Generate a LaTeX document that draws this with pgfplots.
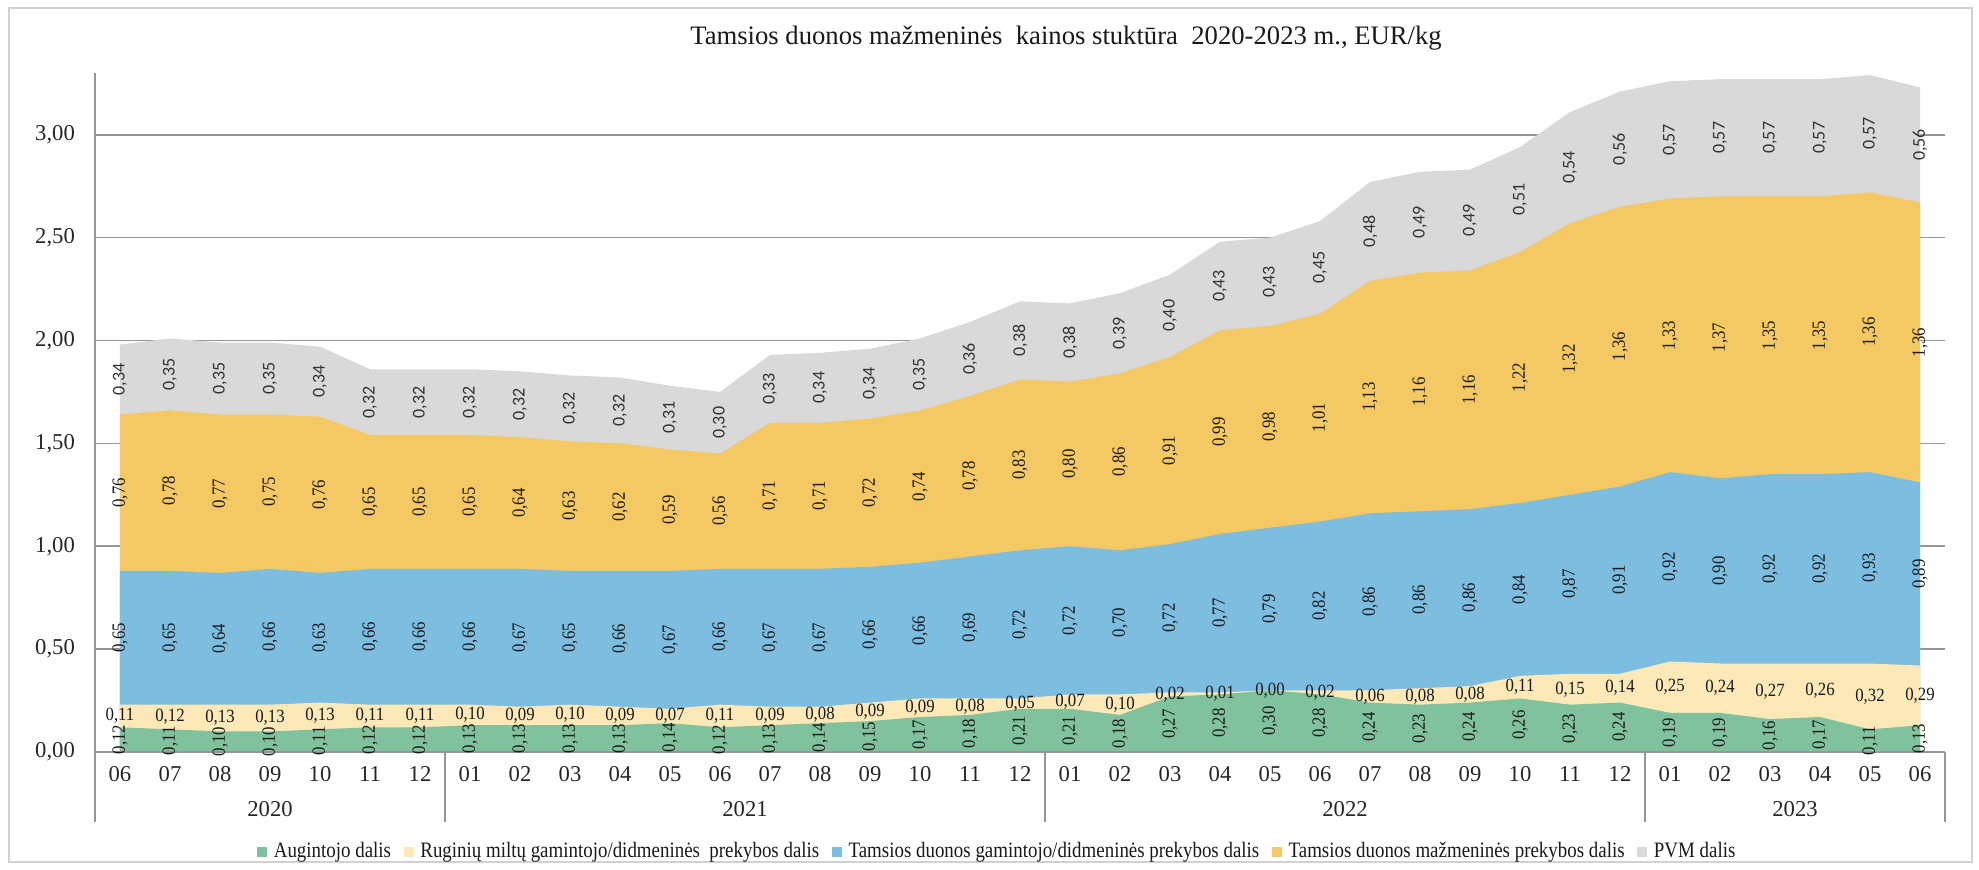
\documentclass[border=0pt]{standalone}
\usepackage{fontspec}
\setmainfont{Liberation Serif}
\newfontfamily\lblsans{Carlito}
\newfontfamily\condserif[FakeStretch=0.9]{Liberation Serif}
\newfontfamily\legserif[FakeStretch=0.86]{Liberation Serif}
\usepackage{pgfplots}
\usepackage{pgfplotstable}
\pgfplotsset{compat=1.18}
\definecolor{cA}{RGB}{128,194,158}
\definecolor{cB}{RGB}{253,233,183}
\definecolor{cC}{RGB}{124,189,224}
\definecolor{cD}{RGB}{244,200,98}
\definecolor{cE}{RGB}{217,217,217}
\definecolor{gridc}{RGB}{150,150,150}

\pgfplotstableread{
x a b c d e
0 0.12 0.11 0.65 0.76 0.34
1 0.11 0.12 0.65 0.78 0.35
2 0.10 0.13 0.64 0.77 0.35
3 0.10 0.13 0.66 0.75 0.35
4 0.11 0.13 0.63 0.76 0.34
5 0.12 0.11 0.66 0.65 0.32
6 0.12 0.11 0.66 0.65 0.32
7 0.13 0.10 0.66 0.65 0.32
8 0.13 0.09 0.67 0.64 0.32
9 0.13 0.10 0.65 0.63 0.32
10 0.13 0.09 0.66 0.62 0.32
11 0.14 0.07 0.67 0.59 0.31
12 0.12 0.11 0.66 0.56 0.30
13 0.13 0.09 0.67 0.71 0.33
14 0.14 0.08 0.67 0.71 0.34
15 0.15 0.09 0.66 0.72 0.34
16 0.17 0.09 0.66 0.74 0.35
17 0.18 0.08 0.69 0.78 0.36
18 0.21 0.05 0.72 0.83 0.38
19 0.21 0.07 0.72 0.80 0.38
20 0.18 0.10 0.70 0.86 0.39
21 0.27 0.02 0.72 0.91 0.40
22 0.28 0.01 0.77 0.99 0.43
23 0.30 0.00 0.79 0.98 0.43
24 0.28 0.02 0.82 1.01 0.45
25 0.24 0.06 0.86 1.13 0.48
26 0.23 0.08 0.86 1.16 0.49
27 0.24 0.08 0.86 1.16 0.49
28 0.26 0.11 0.84 1.22 0.51
29 0.23 0.15 0.87 1.32 0.54
30 0.24 0.14 0.91 1.36 0.56
31 0.19 0.25 0.92 1.33 0.57
32 0.19 0.24 0.90 1.37 0.57
33 0.16 0.27 0.92 1.35 0.57
34 0.17 0.26 0.92 1.35 0.57
35 0.11 0.32 0.93 1.36 0.57
36 0.13 0.29 0.89 1.36 0.56
}\data

\begin{document}
\begin{tikzpicture}
\useasboundingbox (0,0) rectangle (593.7pt,261pt);
\draw[black!18, line width=0.5pt] (2.7pt,2.4pt) rectangle (591.6pt,258.6pt);
\node[font=\fontsize{8}{9}\selectfont, text=black!90] at (319.8pt,249.6pt) {Tamsios duonos mažmeninės\ \ kainos stuktūra\ \ 2020-2023 m., EUR/kg};
\begin{axis}[
  at={(28.5pt,35.4pt)}, anchor=south west,
  scale only axis, width=555pt, height=203.7pt,
  xmin=-0.5, xmax=36.5, ymin=0, ymax=3.3,
  axis x line*=bottom, axis y line*=left,
  axis line style={gridc, line width=0.5pt, -},
  ytick={0,0.5,1,1.5,2,2.5,3},
  ymajorgrids, grid style={gridc, line width=0.5pt},
  major tick length=0pt,
  xtick={0,...,36},
  xticklabels={06,07,08,09,10,11,12,01,02,03,04,05,06,07,08,09,10,11,12,01,02,03,04,05,06,07,08,09,10,11,12,01,02,03,04,05,06},
  tick label style={font=\fontsize{6.8}{8}\selectfont, text=black!85},
  xticklabel style={yshift=-0.9pt},
  yticklabel style={xshift=-2.5pt},
  /pgf/number format/assume math mode=true,
  yticklabel={\pgfmathprintnumber[fixed,fixed zerofill,precision=2,use comma]{\tick}},
  extra x ticks={-0.5,6.5,18.5,30.5,36.5},
  extra x tick labels={},
  extra x tick style={grid=none, major tick length=21pt, tick align=outside, tick style={gridc, line width=0.5pt}},
  clip=false,
  legend columns=5,
  legend style={at={(0.489,0)}, anchor=center, yshift=-30pt, draw=none, fill=none,
    font=\legserif\fontsize{6.6}{8}\selectfont, text=black!90,
    /tikz/every even column/.append style={column sep=1.8pt},
    /tikz/every odd column/.append style={column sep=0pt}},
  legend image code/.code={\fill[#1] (0pt,-1.5pt) rectangle (3pt,1.5pt);},
]
\addlegendimage{fill=cA, draw=none}\addlegendentry{Augintojo dalis}
\addlegendimage{fill=cB, draw=none}\addlegendentry{Ruginių miltų gamintojo/didmeninės\ \ prekybos dalis}
\addlegendimage{fill=cC, draw=none}\addlegendentry{Tamsios duonos gamintojo/didmeninės prekybos dalis}
\addlegendimage{fill=cD, draw=none}\addlegendentry{Tamsios duonos mažmeninės prekybos dalis}
\addlegendimage{fill=cE, draw=none}\addlegendentry{PVM dalis}

\addplot[fill=cE, draw=none, forget plot] table[x=x, y expr=\thisrow{a}+\thisrow{b}+\thisrow{c}+\thisrow{d}+\thisrow{e}]{\data} \closedcycle;
\addplot[fill=cD, draw=none, forget plot] table[x=x, y expr=\thisrow{a}+\thisrow{b}+\thisrow{c}+\thisrow{d}]{\data} \closedcycle;
\addplot[fill=cC, draw=none, forget plot] table[x=x, y expr=\thisrow{a}+\thisrow{b}+\thisrow{c}]{\data} \closedcycle;
\addplot[fill=cB, draw=none, forget plot] table[x=x, y expr=\thisrow{a}+\thisrow{b}]{\data} \closedcycle;
\addplot[fill=cA, draw=none, forget plot] table[x=x, y expr=\thisrow{a}]{\data} \closedcycle;

\draw[gridc, line width=0.5pt] (axis cs:-0.5,0) -- (axis cs:36.5,0);

\pgfplotsset{lbl/.style={draw=none, forget plot, point meta=explicit,
  nodes near coords={\pgfmathprintnumber[fixed,fixed zerofill,precision=2,use comma]{\pgfplotspointmeta}},
  nodes near coords align={center}}}
\addplot[lbl, every node near coord/.append style={rotate=90, anchor=center, inner sep=0pt, font=\condserif\fontsize{5.6}{6}\selectfont, text=black!90}]
  table[x=x, y expr=\thisrow{a}/2, meta=a]{\data};
\addplot[lbl, every node near coord/.append style={anchor=center, inner sep=0pt, font=\condserif\fontsize{5.6}{6}\selectfont, text=black!90}]
  table[x=x, y expr=\thisrow{a}+\thisrow{b}/2, meta=b]{\data};
\addplot[lbl, every node near coord/.append style={rotate=90, anchor=center, inner sep=0pt, font=\condserif\fontsize{5.6}{6}\selectfont, text=black!90}]
  table[x=x, y expr=\thisrow{a}+\thisrow{b}+\thisrow{c}/2, meta=c]{\data};
\addplot[lbl, every node near coord/.append style={rotate=90, anchor=center, inner sep=0pt, font=\condserif\fontsize{5.6}{6}\selectfont, text=black!90}]
  table[x=x, y expr=\thisrow{a}+\thisrow{b}+\thisrow{c}+\thisrow{d}/2, meta=d]{\data};
\addplot[lbl, every node near coord/.append style={rotate=90, anchor=center, inner sep=0pt, font=\lblsans\fontsize{5.4}{6}\selectfont, text=black!80}]
  table[x=x, y expr=\thisrow{a}+\thisrow{b}+\thisrow{c}+\thisrow{d}+\thisrow{e}/2, meta=e]{\data};

\node[font=\fontsize{6.8}{8}\selectfont, text=black!85] at (axis cs:3,0) [yshift=-17pt] {2020};
\node[font=\fontsize{6.8}{8}\selectfont, text=black!85] at (axis cs:12.5,0) [yshift=-17pt] {2021};
\node[font=\fontsize{6.8}{8}\selectfont, text=black!85] at (axis cs:24.5,0) [yshift=-17pt] {2022};
\node[font=\fontsize{6.8}{8}\selectfont, text=black!85] at (axis cs:33.5,0) [yshift=-17pt] {2023};
\end{axis}
\end{tikzpicture}
\end{document}
